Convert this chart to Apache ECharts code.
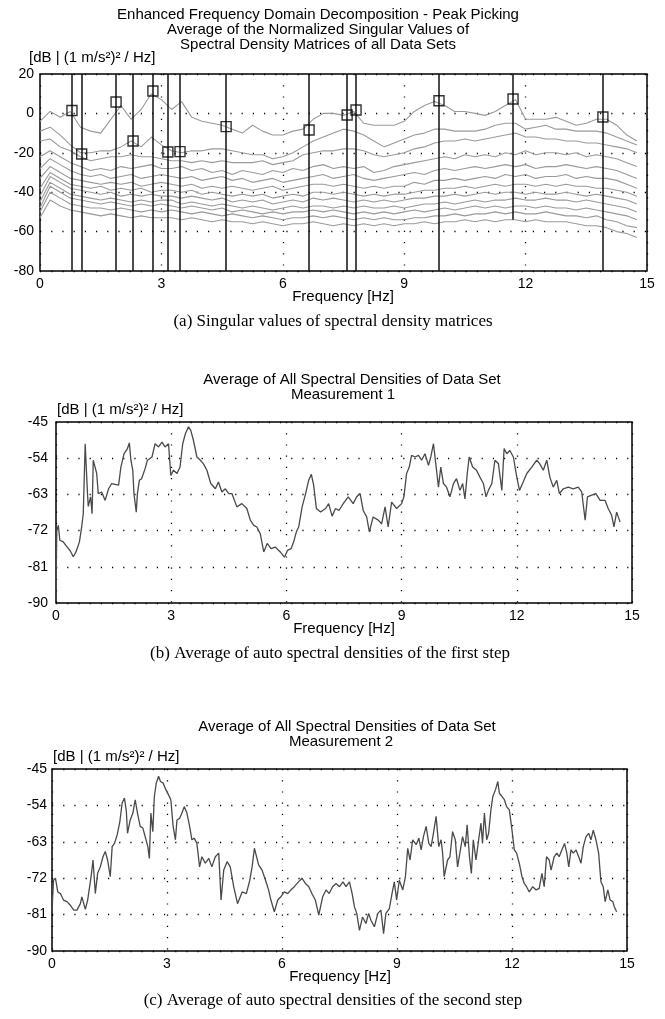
<!DOCTYPE html>
<html>
<head>
<meta charset="utf-8">
<script src="https://cdn.jsdelivr.net/npm/echarts@6.0.0/dist/echarts.min.js"></script>
<style>
html,body{margin:0;padding:0;background:#fff;}
#main{width:665px;height:1019px;}
</style>
</head>
<body>
<div id="main"></div>
<script>
// ---- panel (a): singular values, 0..14.75 Hz every 0.25 Hz
var freqA = [0,0.25,0.5,0.75,1,1.25,1.5,1.75,2,2.25,2.5,2.75,3,3.25,3.5,3.75,4,4.25,4.5,4.75,
	5,5.25,5.5,5.75,6,6.25,6.5,6.75,7,7.25,7.5,7.75,8,8.25,8.5,8.75,9,9.25,9.5,9.75,
	10,10.25,10.5,10.75,11,11.25,11.5,11.75,12,12.25,12.5,12.75,13,13.25,13.5,13.75,14,14.25,14.5,14.75];

var sv1 = [-4,1,-2,1,-7,-9,-10,-3,4,-3,2,10,7,2,6,-2,-4,-5,-6,-8,
	-10,-6,-9,-11,-11,-9,-8,-3,0,0,-1,1,-5,-6,-6,-6,-4,1,4,6,
	4,1,1,0,-1,1,4,7,-3,-3,-3,-2,-4,-6,-5,-3,-3,-6,-11,-14];
var sv2 = [-9,-7,-11,-16,-20,-20,-19,-19,-17,-14,-17,-12,-16,-19,-20,-19,-19,-18,-18,-19,
	-20,-21,-21,-23,-22,-20,-17,-14,-12,-10,-8,-9,-11,-14,-17,-15,-13,-11,-10,-8,
	-8,-9,-9,-9,-8,-6,-5,-5,-8,-7,-6,-8,-8,-9,-9,-9,-10,-12,-14,-16];
var sv3 = [-14,-13,-17,-19,-22,-24,-23,-22,-22,-21,-22,-22,-23,-24,-24,-25,-24,-25,-24,-25,
	-25,-25,-24,-26,-25,-24,-21,-20,-19,-19,-18,-18,-19,-21,-22,-21,-20,-18,-17,-15,
	-14,-14,-13,-14,-13,-12,-11,-10,-12,-12,-13,-13,-14,-14,-15,-15,-16,-17,-18,-20];
var sv4 = [-22,-19,-22,-25,-27,-29,-28,-29,-27,-28,-27,-26,-28,-28,-27,-29,-28,-30,-29,-31,
	-29,-30,-31,-29,-30,-28,-29,-27,-26,-28,-27,-28,-27,-30,-29,-27,-26,-25,-24,-23,
	-22,-23,-21,-22,-21,-22,-20,-21,-19,-21,-20,-20,-21,-20,-22,-21,-22,-23,-25,-27];
var sv5 = [-28,-23,-26,-29,-31,-32,-31,-33,-32,-31,-33,-32,-31,-32,-33,-32,-34,-33,-32,-34,
	-33,-35,-34,-33,-35,-34,-33,-32,-31,-33,-32,-31,-33,-34,-33,-32,-31,-30,-31,-29,
	-28,-29,-28,-27,-28,-27,-26,-27,-26,-28,-27,-27,-26,-27,-28,-27,-28,-29,-31,-33];
var sv6 = [-33,-27,-30,-33,-34,-35,-36,-35,-36,-35,-37,-36,-35,-36,-37,-36,-38,-37,-38,-37,
	-38,-39,-38,-37,-39,-38,-37,-36,-36,-37,-36,-37,-38,-37,-38,-37,-37,-35,-36,-34,
	-34,-33,-34,-33,-32,-33,-31,-32,-31,-33,-32,-32,-31,-33,-32,-33,-33,-34,-36,-38];
var sv7 = [-38,-30,-33,-36,-37,-38,-37,-39,-38,-39,-38,-40,-39,-39,-40,-39,-41,-40,-41,-42,
	-41,-42,-41,-43,-42,-41,-42,-40,-40,-41,-40,-41,-42,-41,-42,-41,-41,-40,-39,-39,
	-38,-38,-37,-38,-37,-36,-37,-36,-36,-37,-36,-37,-36,-37,-37,-38,-38,-39,-40,-42];
var sv8 = [-42,-32,-35,-38,-39,-40,-41,-40,-42,-41,-42,-41,-42,-42,-43,-42,-43,-44,-43,-45,
	-44,-45,-44,-46,-45,-44,-45,-43,-44,-43,-44,-45,-44,-45,-44,-45,-44,-43,-43,-42,
	-42,-41,-42,-41,-40,-41,-40,-40,-41,-40,-41,-41,-40,-41,-42,-41,-42,-43,-44,-46];
var sv9 = [-45,-35,-38,-41,-42,-43,-44,-43,-44,-45,-44,-45,-44,-44,-46,-45,-46,-47,-46,-47,
	-48,-47,-48,-49,-48,-47,-48,-47,-47,-48,-47,-48,-47,-48,-48,-47,-48,-47,-46,-46,
	-45,-46,-45,-44,-45,-44,-44,-43,-44,-44,-43,-44,-44,-45,-44,-45,-46,-47,-48,-50];
var sv10 = [-48,-37,-40,-43,-44,-45,-46,-45,-46,-47,-46,-47,-46,-47,-48,-47,-48,-49,-48,-50,
	-49,-50,-51,-50,-51,-50,-50,-49,-50,-49,-50,-51,-50,-51,-50,-51,-50,-49,-50,-49,
	-48,-49,-48,-47,-48,-47,-48,-47,-47,-48,-47,-48,-48,-49,-48,-49,-50,-51,-52,-54];
var sv11 = [-50,-40,-43,-46,-47,-48,-48,-49,-48,-49,-50,-49,-50,-49,-50,-51,-50,-51,-52,-51,
	-52,-53,-52,-53,-54,-53,-53,-52,-53,-52,-53,-54,-53,-54,-53,-54,-54,-53,-53,-52,
	-52,-51,-52,-51,-51,-50,-51,-50,-51,-51,-50,-51,-52,-52,-53,-52,-54,-55,-57,-58];
var sv12 = [-53,-44,-47,-49,-50,-51,-52,-51,-52,-53,-52,-53,-53,-53,-54,-53,-54,-55,-54,-55,
	-55,-56,-55,-56,-57,-56,-56,-55,-56,-57,-56,-57,-56,-57,-56,-57,-56,-56,-55,-56,
	-55,-55,-54,-55,-54,-55,-54,-54,-55,-54,-55,-55,-55,-56,-57,-57,-58,-60,-61,-63];

// picked peaks (frequency, level of the square) and lower end of the black line
var peakFreq = [0.79,1.03,1.88,2.30,2.79,3.16,3.46,4.60,6.65,7.59,7.81,9.86,11.69,13.91];
var peakDb = [1.5,-20.6,5.8,-14,11.4,-19.6,-19.4,-6.7,-8.4,-0.8,1.7,6.4,7.3,-1.8];
var peakLineEnd = [-80,-80,-80,-80,-80,-80,-80,-80,-80,-80,-80,-80,-54,-80];

// ---- panel (b): measurement 1  [Hz, dB]
var measure1 = [[0,-87],[0.02,-72],[0.06,-70.7],[0.10,-74.4],[0.19,-74.8],[0.28,-76],[0.37,-77],[0.45,-78.5],[0.52,-77.3],[0.61,-74.8],
	[0.67,-71],[0.71,-67.8],[0.76,-50.4],[0.78,-50],[0.82,-62.8],[0.84,-66],[0.90,-63.6],[0.94,-67.8],[0.97,-54.5],[1.02,-54.1],
	[1.06,-57.8],[1.10,-62.8],[1.19,-62.4],[1.28,-64.5],[1.37,-61.6],[1.45,-60.3],[1.54,-60.5],[1.63,-60.7],[1.69,-56.2],[1.77,-52.9],
	[1.86,-51.6],[1.91,-50.2],[1.95,-54.5],[2.00,-57],[2.03,-62.8],[2.09,-67.4],[2.12,-62.8],[2.17,-59.5],[2.23,-59.1],[2.32,-56.6],
	[2.38,-54.5],[2.50,-53.7],[2.58,-50.4],[2.67,-51.2],[2.76,-50],[2.84,-51.2],[2.93,-50.4],[2.99,-58.3],[3.06,-57],[3.15,-57.8],
	[3.23,-56.2],[3.30,-50.4],[3.37,-47.9],[3.45,-46.2],[3.51,-47.1],[3.58,-49.6],[3.67,-53.7],[3.76,-54.5],[3.84,-55.4],[3.93,-57],
	[4.03,-60.3],[4.15,-61.6],[4.23,-59.9],[4.32,-62.4],[4.41,-61.6],[4.50,-62.8],[4.58,-62.8],[4.71,-66.1],[4.84,-65.3],[4.97,-66.5],
	[5.06,-69.4],[5.15,-70.7],[5.23,-71.1],[5.32,-72.8],[5.41,-77.3],[5.50,-75.2],[5.60,-76.5],[5.71,-76.1],[5.84,-77.3],[5.95,-78.6],
	[6.03,-76.9],[6.12,-76.5],[6.19,-74.8],[6.26,-72.3],[6.32,-71.1],[6.41,-66.1],[6.50,-62.8],[6.58,-59.5],[6.65,-58],[6.71,-60.7],
	[6.78,-66.5],[6.89,-67.4],[7.02,-66.5],[7.10,-65.3],[7.19,-68.4],[7.28,-66.5],[7.37,-67],[7.48,-65.3],[7.61,-63.6],[7.74,-65.3],
	[7.83,-63.6],[7.92,-62.8],[8.00,-67],[8.09,-68.6],[8.16,-72.3],[8.26,-68.6],[8.39,-69.4],[8.48,-70.3],[8.57,-66.1],[8.65,-71.1],
	[8.74,-64.9],[8.87,-66.5],[9.00,-65.3],[9.06,-63.6],[9.13,-57.8],[9.20,-56.2],[9.26,-53.3],[9.35,-53.7],[9.44,-53.3],[9.52,-54.5],
	[9.61,-52.9],[9.70,-55.8],[9.76,-53.7],[9.83,-50.4],[9.90,-56.2],[9.96,-61.2],[10.02,-56.2],[10.09,-60.3],[10.17,-61.2],[10.26,-63.6],
	[10.35,-60.3],[10.43,-59.1],[10.52,-62],[10.59,-60.3],[10.65,-64.1],[10.71,-57.8],[10.76,-53.7],[10.85,-56.2],[10.95,-57],[11.04,-58.7],
	[11.13,-60.3],[11.20,-63.6],[11.26,-62],[11.35,-60.3],[11.43,-54.5],[11.52,-55.3],[11.61,-62],[11.67,-51.6],[11.74,-52.9],[11.82,-52.1],
	[11.91,-53.7],[12.00,-58.7],[12.07,-62],[12.15,-60.3],[12.26,-57.8],[12.39,-56.2],[12.52,-54.5],[12.60,-55.4],[12.69,-57],[12.78,-54.5],
	[12.86,-58.7],[12.95,-61.2],[13.04,-59.5],[13.11,-62.8],[13.21,-61.6],[13.34,-61.2],[13.47,-61.6],[13.60,-61.2],[13.69,-62.4],[13.78,-69.4],
	[13.84,-63.6],[13.95,-63.2],[14.06,-62.8],[14.17,-64.5],[14.30,-64.5],[14.38,-66.5],[14.47,-68.2],[14.53,-71.1],[14.60,-67.4],[14.69,-69.9]];

// ---- panel (c): measurement 2  [Hz, dB]
var measure2 = [[0,-79.9],[0.04,-72.5],[0.09,-72],[0.15,-75.4],[0.22,-75.8],[0.30,-77.4],[0.39,-77.8],[0.48,-78.7],[0.57,-79.9],[0.65,-79.9],
	[0.74,-78.3],[0.78,-76.6],[0.87,-79.7],[0.93,-77.4],[1.02,-71.6],[1.07,-67.5],[1.13,-75.8],[1.19,-70.8],[1.26,-69.2],[1.33,-66.7],
	[1.39,-65.4],[1.45,-67.5],[1.52,-71.6],[1.57,-64.2],[1.63,-63.4],[1.70,-61.3],[1.77,-58],[1.83,-53.4],[1.89,-52.2],[1.94,-55.5],
	[1.97,-60.9],[2.04,-57.6],[2.11,-55.9],[2.17,-52.6],[2.23,-55.9],[2.30,-59.2],[2.37,-59.6],[2.43,-61.7],[2.50,-64.2],[2.54,-67.1],
	[2.58,-55.9],[2.63,-60.5],[2.67,-51.8],[2.72,-48.5],[2.78,-46.8],[2.83,-48.1],[2.90,-48.5],[2.97,-50.1],[3.04,-51.4],[3.10,-52.6],
	[3.16,-59.2],[3.22,-62.5],[3.26,-57.6],[3.33,-57.2],[3.39,-55.9],[3.45,-54.3],[3.52,-55.9],[3.59,-59.2],[3.65,-62.5],[3.71,-62.1],
	[3.78,-63.4],[3.85,-69.2],[3.91,-66.7],[4.00,-68.3],[4.09,-67.1],[4.17,-69.2],[4.26,-66.7],[4.35,-65.8],[4.41,-77.4],[4.48,-70],
	[4.57,-67.9],[4.65,-69.2],[4.74,-74.1],[4.84,-78.3],[4.96,-75.4],[5.07,-75.8],[5.16,-72.5],[5.22,-69.2],[5.28,-64.6],[5.33,-65],
	[5.39,-68.7],[5.48,-70],[5.57,-72.5],[5.65,-74.9],[5.71,-77.4],[5.80,-80.3],[5.89,-77.4],[5.97,-76.6],[6.06,-75.4],[6.15,-75.8],
	[6.23,-74.9],[6.32,-74.1],[6.43,-72.9],[6.52,-72],[6.61,-73.3],[6.70,-74.1],[6.78,-75.8],[6.87,-77.4],[6.96,-81.1],[7.06,-76.6],
	[7.15,-74.9],[7.23,-75.8],[7.32,-74.1],[7.41,-73.3],[7.50,-74.1],[7.59,-72.9],[7.67,-74.1],[7.76,-72.9],[7.83,-75.8],[7.89,-79.1],
	[7.95,-80.7],[8.02,-84.9],[8.10,-81.6],[8.19,-83.2],[8.26,-80.7],[8.32,-82.4],[8.41,-84],[8.50,-80.7],[8.58,-79.9],[8.65,-85.7],
	[8.71,-80.7],[8.80,-79.5],[8.87,-75.8],[8.93,-72.9],[8.99,-77.4],[9.06,-72.5],[9.15,-74.9],[9.22,-71.6],[9.28,-64.6],[9.34,-67.5],
	[9.41,-62.5],[9.50,-63.7],[9.57,-62.1],[9.63,-65],[9.69,-61.7],[9.76,-59.2],[9.83,-63.4],[9.89,-64.2],[9.95,-60.9],[10.02,-56.7],
	[10.09,-64.2],[10.15,-62.5],[10.19,-65.8],[10.23,-71.6],[10.32,-67.5],[10.38,-66.7],[10.45,-60.5],[10.52,-62.5],[10.58,-69.2],[10.64,-65.8],
	[10.71,-61.7],[10.78,-64.2],[10.83,-58.8],[10.89,-66.7],[10.94,-70.8],[10.99,-62.5],[11.06,-67.5],[11.13,-62.5],[11.19,-58.4],[11.23,-63.4],
	[11.28,-55.9],[11.34,-62.5],[11.39,-60.9],[11.45,-55.1],[11.50,-51.8],[11.57,-50.1],[11.63,-48.1],[11.67,-51],[11.74,-51.8],[11.80,-52.6],
	[11.86,-54.3],[11.93,-55.1],[12.00,-60.1],[12.06,-65],[12.12,-65.8],[12.19,-68.3],[12.26,-71.6],[12.32,-73.3],[12.38,-74.1],[12.45,-75.4],
	[12.54,-74.1],[12.63,-74.9],[12.71,-74.5],[12.78,-70.8],[12.84,-74.1],[12.90,-66.7],[12.97,-67.5],[13.02,-70],[13.10,-66.7],[13.17,-65.8],
	[13.23,-66.7],[13.30,-65],[13.37,-63.4],[13.43,-65.8],[13.48,-69.2],[13.54,-65],[13.60,-65.8],[13.67,-65],[13.74,-66.7],[13.80,-68.3],
	[13.86,-64.2],[13.93,-61.7],[14.00,-60.9],[14.06,-62.5],[14.12,-60.1],[14.19,-62.5],[14.26,-65.8],[14.32,-72.9],[14.38,-74.1],[14.43,-77.8],
	[14.50,-74.9],[14.56,-77.4],[14.63,-77.8],[14.67,-79.1],[14.73,-80.3]];

var yTicksA = {min: -80, max: 20, interval: 20};
var yTicksB = {min: -90, max: -45, interval: 9};

var SANS = '"Liberation Sans", Arial, sans-serif';
var SERIF = '"Liberation Serif", "Times New Roman", serif';
var DOTS = [1.2, 10];

function xAxisFor(gi) {
	return {
		type: 'value', gridIndex: gi, min: 0, max: 15, interval: 3,
		axisLine: {show: false}, axisTick: {show: false},
		axisLabel: {color: '#000', fontSize: 14, fontFamily: SANS, margin: 6},
		splitLine: {show: true, lineStyle: {color: '#000', type: DOTS, width: 1.3}}
	};
}
function yAxisFor(gi, t, m) {
	return {
		type: 'value', gridIndex: gi, min: t.min, max: t.max, interval: t.interval,
		axisLine: {show: false}, axisTick: {show: false},
		axisLabel: {color: '#000', fontSize: 14, fontFamily: SANS, margin: m},
		splitLine: {show: true, lineStyle: {color: '#000', type: DOTS, width: 1.3}}
	};
}
function txt(x, y, s, font, align) {
	return {type: 'text', x: x, y: y, silent: true,
		style: {text: s, font: font, fill: '#000', textAlign: align || 'center', textVerticalAlign: 'middle'}};
}

var myChart = echarts.init(document.getElementById('main'));

var series = [];
[sv1, sv2, sv3, sv4, sv5, sv6, sv7, sv8, sv9, sv10, sv11, sv12].forEach(function(sv){
	series.push({
		type: 'line', xAxisIndex: 0, yAxisIndex: 0, showSymbol: false, silent: true,
		lineStyle: {color: '#9a9a9a', width: 1.1},
		data: freqA.map(function(f, i){ return [f, sv[i]]; })
	});
});
//峰值: 竖线 + 方框
series.push({
	type: 'scatter', xAxisIndex: 0, yAxisIndex: 0, symbol: 'rect', symbolSize: 10, z: 5,
	itemStyle: {color: 'rgba(0,0,0,0)', borderColor: '#000', borderWidth: 1.4},
	data: peakFreq.map(function(f, i){ return [f, peakDb[i]]; }),
	markLine: {
		silent: true, symbol: ['none', 'none'], label: {show: false},
		lineStyle: {color: '#111', width: 1.5, type: 'solid'},
		data: peakFreq.map(function(f, i){
			return [{coord: [f, yTicksA.max]}, {coord: [f, peakLineEnd[i]]}];
		})
	}
});
series.push({
	type: 'line', xAxisIndex: 1, yAxisIndex: 1, showSymbol: false, silent: true,
	lineStyle: {color: '#4a4a4a', width: 1.3}, data: measure1
});
series.push({
	type: 'line', xAxisIndex: 2, yAxisIndex: 2, showSymbol: false, silent: true,
	lineStyle: {color: '#4a4a4a', width: 1.3}, data: measure2
});

var gridStyle = {show: true, borderColor: '#000', borderWidth: 1.5, backgroundColor: 'transparent'};
var F = '15px ' + SANS;

var option = {
	animation: false,
	backgroundColor: '#fff',
	grid: [
		Object.assign({left: 40, top: 74, width: 607, height: 197}, gridStyle),
		Object.assign({left: 56, top: 422, width: 576, height: 181}, gridStyle),
		Object.assign({left: 52, top: 769, width: 575, height: 182}, gridStyle)
	],
	xAxis: [xAxisFor(0), xAxisFor(1), xAxisFor(2)],
	yAxis: [yAxisFor(0, yTicksA, 6), yAxisFor(1, yTicksB, 8), yAxisFor(2, yTicksB, 5)],
	graphic: [
		txt(318, 15, 'Enhanced Frequency Domain Decomposition - Peak Picking', F),
		txt(318, 30, 'Average of the Normalized Singular Values of', F),
		txt(318, 45, 'Spectral Density Matrices of all Data Sets', F),
		txt(29, 58, '[dB | (1 m/s²)² / Hz]', F, 'left'),
		txt(343, 297, 'Frequency [Hz]', F),
		txt(333, 322, '(a) Singular values of spectral density matrices', '17px ' + SERIF),

		txt(352, 380, 'Average of All Spectral Densities of Data Set', F),
		txt(343, 395, 'Measurement 1', F),
		txt(57, 410, '[dB | (1 m/s²)² / Hz]', F, 'left'),
		txt(344, 629, 'Frequency [Hz]', F),
		txt(330, 654, '(b) Average of auto spectral densities of the first step', '17px ' + SERIF),

		txt(347, 727, 'Average of All Spectral Densities of Data Set', F),
		txt(341, 742, 'Measurement 2', F),
		txt(53, 757, '[dB | (1 m/s²)² / Hz]', F, 'left'),
		txt(340, 977, 'Frequency [Hz]', F),
		txt(333, 1001, '(c) Average of auto spectral densities of the second step', '17px ' + SERIF)
	],
	series: series
};
myChart.setOption(option);
</script>
</body>
</html>
